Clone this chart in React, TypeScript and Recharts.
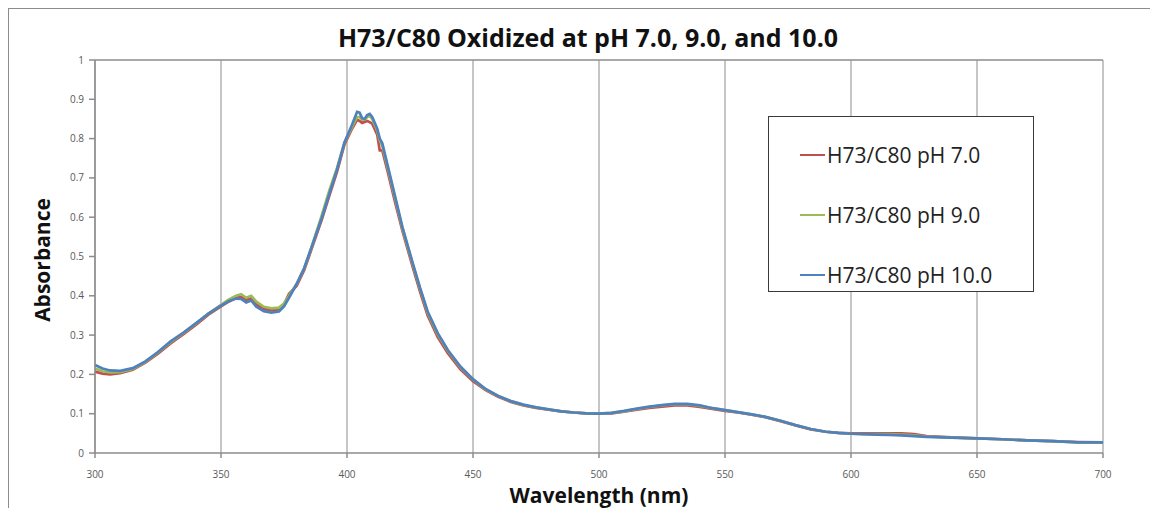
import React from 'react';
import {
  LineChart, Line, XAxis, YAxis, CartesianGrid, ReferenceLine,
} from 'recharts';

// wavelengths (nm) shared by all three spectra
const wavelengths = [
  300, 303, 306, 310, 315, 320, 325, 330, 335, 340, 345, 350, 353, 356, 358, 360, 362, 364, 367, 370,
  373, 375, 377, 380, 383, 386, 390, 393, 396, 399, 402, 404, 405, 406, 407, 408, 409, 410, 412, 413,
  414, 416, 419, 422, 426, 429, 432, 436, 440, 445, 450, 455, 460, 465, 470, 475, 480, 485, 490, 495,
  500, 505, 510, 515, 520, 525, 530, 535, 540, 545, 550, 555, 560, 566, 572, 578, 584, 590, 595, 600,
  605, 610, 615, 620, 625, 630, 640, 650, 660, 670, 680, 690, 700,
];

const ph7 = [
  0.207, 0.202, 0.2, 0.203, 0.212, 0.23, 0.253, 0.279, 0.302, 0.326, 0.352, 0.373, 0.385, 0.395, 0.397, 0.39, 0.393, 0.378, 0.367, 0.363,
  0.366, 0.378, 0.405, 0.425, 0.465, 0.52, 0.594, 0.655, 0.715, 0.785, 0.825, 0.848, 0.845, 0.84, 0.842, 0.845, 0.842, 0.838, 0.81, 0.77,
  0.77, 0.72, 0.64, 0.565, 0.475, 0.41, 0.35, 0.295, 0.254, 0.213, 0.183, 0.16, 0.143, 0.13, 0.121, 0.115, 0.11, 0.106, 0.103, 0.101,
  0.1, 0.101, 0.105, 0.11, 0.115, 0.118, 0.121, 0.121, 0.117, 0.112, 0.107, 0.103, 0.098, 0.091, 0.081, 0.07, 0.06, 0.054, 0.051, 0.05,
  0.05, 0.05, 0.05, 0.05, 0.048, 0.043, 0.04, 0.037, 0.035, 0.032, 0.03, 0.028, 0.027,
];

const ph9 = [
  0.215, 0.208, 0.205, 0.206, 0.214, 0.232, 0.256, 0.282, 0.305, 0.329, 0.355, 0.377, 0.39, 0.4, 0.404, 0.395, 0.4, 0.385, 0.372, 0.368,
  0.37, 0.38, 0.4, 0.43, 0.47, 0.525, 0.605, 0.668, 0.725, 0.79, 0.83, 0.855, 0.855, 0.848, 0.848, 0.855, 0.858, 0.85, 0.82, 0.795,
  0.782, 0.73, 0.65, 0.572, 0.482, 0.418, 0.357, 0.302, 0.26, 0.218, 0.187, 0.162, 0.145, 0.132, 0.122, 0.116, 0.111, 0.106, 0.103, 0.101,
  0.1, 0.102, 0.106, 0.112, 0.117, 0.121, 0.124, 0.124, 0.12, 0.114, 0.109, 0.104, 0.099, 0.092, 0.082, 0.071, 0.061, 0.054, 0.051, 0.049,
  0.048, 0.048, 0.048, 0.047, 0.045, 0.042, 0.039, 0.037, 0.035, 0.032, 0.03, 0.027, 0.027,
];

const ph10 = [
  0.224, 0.215, 0.21, 0.209, 0.216, 0.233, 0.257, 0.284, 0.306, 0.33, 0.355, 0.375, 0.386, 0.393, 0.392, 0.383, 0.388, 0.372, 0.361, 0.357,
  0.36, 0.373, 0.395, 0.43, 0.47, 0.525, 0.598, 0.66, 0.72, 0.79, 0.835, 0.868, 0.866, 0.852, 0.85, 0.86, 0.863, 0.855, 0.825, 0.8,
  0.788, 0.735, 0.655, 0.575, 0.485, 0.42, 0.36, 0.305, 0.262, 0.22, 0.188, 0.163, 0.145, 0.132, 0.123, 0.116, 0.111, 0.106, 0.103, 0.101,
  0.1, 0.102, 0.107, 0.113, 0.118, 0.122, 0.125, 0.125, 0.121, 0.114, 0.109, 0.104, 0.099, 0.092, 0.082, 0.071, 0.061, 0.054, 0.051, 0.049,
  0.048, 0.047, 0.046, 0.045, 0.043, 0.041, 0.039, 0.037, 0.035, 0.032, 0.03, 0.027, 0.027,
];

const xTicks = [300, 350, 400, 450, 500, 550, 600, 650, 700];
const yTicks = [0, 0.1, 0.2, 0.3, 0.4, 0.5, 0.6, 0.7, 0.8, 0.9, 1];

const SERIES = [
  { key: 'ph7', name: 'H73/C80 pH 7.0', color: '#C0504D' },
  { key: 'ph9', name: 'H73/C80 pH 9.0', color: '#9BBB59' },
  { key: 'ph10', name: 'H73/C80 pH 10.0', color: '#4F81BD' },
];

const data = wavelengths.map((w, i) => ({ w, ph7: ph7[i], ph9: ph9[i], ph10: ph10[i] }));

const FONT = '"Open Sans", "Liberation Sans", sans-serif';

// legend box, Excel style: short line + label, big row spacing
const LegendBox = () => (
  <div style={{
    position: 'absolute', left: 759, top: 107,
    width: 266, height: 176, border: '1.5px solid #3a3a3a', background: '#fff',
    boxSizing: 'border-box', paddingTop: 8,
  }}>
    {SERIES.map(s => (
      <div key={s.key} style={{ height: 60, display: 'flex', alignItems: 'center', paddingLeft: 31 }}>
        <div style={{ width: 25, height: 2.5, background: s.color, marginRight: 2 }} />
        <span style={{ fontFamily: FONT, fontSize: 21, color: '#222' }}>{s.name}</span>
      </div>
    ))}
  </div>
);

const App: React.FC = () => {
  return (
    <div style={{
      position: 'relative', width: 1142, height: 510, border: '2px solid #8c8c8c',
      marginLeft: -1, marginTop: -1, background: '#fff', fontFamily: FONT,
    }}>
      <div style={{
        position: 'absolute', left: 0, width: 1158, top: 11, textAlign: 'center',
        fontSize: 25, fontWeight: 700, color: '#111',
      }}>
        H73/C80 Oxidized at pH 7.0, 9.0, and 10.0
      </div>
      <div style={{
        position: 'absolute', left: 33, top: 251, width: 0, height: 0,
      }}>
        <div style={{
          position: 'absolute', transform: 'translate(-50%, -50%) rotate(-90deg)',
          fontSize: 21, fontWeight: 700, color: '#111', whiteSpace: 'nowrap',
        }}>
          Absorbance
        </div>
      </div>
      <div style={{
        position: 'absolute', left: 0, width: 1180, top: 472, textAlign: 'center',
        fontSize: 21, fontWeight: 700, color: '#111',
      }}>
        Wavelength (nm)
      </div>
      <LineChart width={1142} height={500} data={data} margin={{ top: 51, right: 48, bottom: 26, left: 26 }}>
        <CartesianGrid horizontal={false} stroke="#8c8c8c" strokeWidth={1} />
        <ReferenceLine y={1} stroke="#8c8c8c" strokeWidth={1.5} />
        <XAxis
          dataKey="w" type="number" domain={[300, 700]} ticks={xTicks} interval={0}
          tick={{ fontSize: 10, fill: '#595959', fontFamily: FONT }}
          stroke="#8c8c8c" strokeWidth={1.5} tickSize={5} tickMargin={13} height={30}
        />
        <YAxis
          type="number" domain={[0, 1]} ticks={yTicks} interval={0} width={60}
          tick={{ fontSize: 10, fill: '#595959', fontFamily: FONT }}
          stroke="#8c8c8c" strokeWidth={1.5} tickSize={6} tickMargin={5}
        />
        {SERIES.map(s => (
          <Line
            key={s.key} type="linear" dataKey={s.key} name={s.name} stroke={s.color}
            strokeWidth={2.7} dot={false} isAnimationActive={false}
          />
        ))}
      </LineChart>
      <LegendBox />
    </div>
  );
};

export default App;
